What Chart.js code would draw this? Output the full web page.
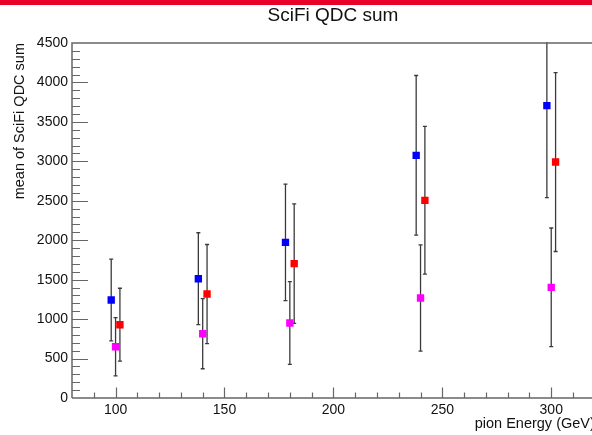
<!DOCTYPE html>
<html>
<head>
<meta charset="utf-8">
<script src="https://cdn.jsdelivr.net/npm/chart.js@4"></script>
<style>
  html, body { margin: 0; padding: 0; background: #fff; overflow: hidden; }
  #wrap { position: relative; width: 592px; height: 435px; overflow: hidden; }
  #topbar { position: absolute; left: 0; top: 0; width: 592px; height: 5px; background: #e8002b; }
  #title { position: absolute; left: 233px; width: 200px; top: 4px; text-align: center;
           font: 19px "Liberation Sans", Arial, sans-serif; color: #111; }
  #box { position: absolute; left: 0; top: 0; width: 600px; height: 435px; }
</style>
</head>
<body>
<div id="wrap">
  <div id="box"><canvas id="qdcChart"></canvas></div>
  <div id="topbar"></div>
  <div id="title">SciFi QDC sum</div>
</div>
<script>
// pion energies (GeV), slightly offset per series as in the original plot
const blueEnergy = [98, 138, 178, 238, 298];
const blueMean = [1242, 1512, 1973, 3076, 3706];
const blueErr = [518, 583, 738, 1012, 1167];

const redEnergy = [102, 142, 182, 242, 302];
const redMean = [929, 1318, 1703, 2506, 2991];
const redErr = [462, 628, 758, 936, 1134];

const magentaEnergy = [100, 140, 180, 240, 300];
const magentaMean = [650, 815, 951, 1268, 1403];
const magentaErr = [370, 444, 524, 674, 752];

const xTicks = [100, 150, 200, 250, 300];
const yTicks = [0, 500, 1000, 1500, 2000, 2500, 3000, 3500, 4000, 4500];

const xMin = 80, xMax = 320;
const yMin = 0, yMax = 4500;

const FONT = '"Liberation Sans", Arial, sans-serif';
const AXIS_COLOR = '#666';

function makeSeries(label, energy, mean, err, color) {
    return {
        label: label,
        data: energy.map((e, i) => ({ x: e, y: mean[i], err: err[i] })),
        backgroundColor: color,
        borderColor: color,
        pointStyle: 'rect',
        pointRadius: 5.2,
        pointHoverRadius: 5.2,
        pointBorderWidth: 0,
        showLine: false
    };
}

// Vertical error bars, drawn under the markers
const errorBars = {
    id: 'errorBars',
    beforeDatasetsDraw(chart) {
        const ctx = chart.ctx;
        const xs = chart.scales.x;
        const ys = chart.scales.y;
        const area = chart.chartArea;
        ctx.save();
        ctx.beginPath();
        ctx.rect(area.left, area.top - 1, area.right - area.left, area.bottom - area.top + 2);
        ctx.clip();
        ctx.strokeStyle = '#3a3a3a';
        ctx.lineWidth = 1.3;
        chart.data.datasets.forEach(ds => {
            ds.data.forEach(p => {
                const px = xs.getPixelForValue(p.x);
                const top = ys.getPixelForValue(p.y + p.err);
                const bot = ys.getPixelForValue(p.y - p.err);
                ctx.beginPath();
                ctx.moveTo(px, top);
                ctx.lineTo(px, bot);
                ctx.moveTo(px - 2, top);
                ctx.lineTo(px + 2, top);
                ctx.moveTo(px - 2, bot);
                ctx.lineTo(px + 2, bot);
                ctx.stroke();
            });
        });
        ctx.restore();
    }
};

// ROOT-style frame with ticks pointing inwards
const rootFrame = {
    id: 'rootFrame',
    afterDraw(chart) {
        const ctx = chart.ctx;
        const xs = chart.scales.x;
        const ys = chart.scales.y;
        const a = chart.chartArea;
        ctx.save();
        ctx.strokeStyle = AXIS_COLOR;
        ctx.lineWidth = 1.5;
        ctx.beginPath();
        ctx.moveTo(a.left, a.bottom);
        ctx.lineTo(a.left, a.top);
        ctx.lineTo(a.right, a.top);
        ctx.moveTo(a.left, a.bottom);
        ctx.lineTo(a.right, a.bottom);
        ctx.stroke();

        ctx.lineWidth = 1.2;
        ctx.beginPath();
        for (let v = yMin + 100; v < yMax; v += 100) {
            const py = Math.round(ys.getPixelForValue(v)) + 0.5;
            const len = v % 500 === 0 ? 16 : 8;
            ctx.moveTo(a.left, py);
            ctx.lineTo(a.left + len, py);
        }
        for (let v = 90; v <= xMax; v += 10) {
            const px = Math.round(xs.getPixelForValue(v)) + 0.5;
            const len = v % 50 === 0 ? 10.5 : 5.5;
            ctx.moveTo(px, a.bottom);
            ctx.lineTo(px, a.bottom - len);
        }
        ctx.stroke();
        ctx.restore();
    }
};

const chart = new Chart(document.getElementById('qdcChart'), {
    type: 'scatter',
    data: {
        datasets: [
            makeSeries('blue', blueEnergy, blueMean, blueErr, '#0000ff'),
            makeSeries('red', redEnergy, redMean, redErr, '#ff0000'),
            makeSeries('magenta', magentaEnergy, magentaMean, magentaErr, '#ff00ff')
        ]
    },
    options: {
        responsive: true,
        maintainAspectRatio: false,
        animation: false,
        layout: { padding: { top: 43, right: 5, left: 0, bottom: 0 } },
        plugins: {
            legend: { display: false },
            title: { display: false },
            tooltip: { enabled: false }
        },
        scales: {
            x: {
                type: 'linear',
                min: xMin,
                max: xMax,
                grid: { display: false, drawTicks: false, tickLength: 0 },
                border: { display: false },
                afterBuildTicks(scale) {
                    scale.ticks = xTicks.map(v => ({ value: v }));
                },
                afterFit(scale) { scale.height = 37; },
                ticks: {
                    padding: 4,
                    color: '#111',
                    font: { family: FONT, size: 14 },
                    maxRotation: 0,
                    callback: v => String(v)
                },
                title: {
                    display: true,
                    text: 'pion Energy (GeV)',
                    align: 'end',
                    color: '#111',
                    font: { family: FONT, size: 14.5 },
                    padding: { top: 0, bottom: 2 }
                }
            },
            y: {
                type: 'linear',
                min: yMin,
                max: yMax,
                grid: { display: false, drawTicks: false, tickLength: 0 },
                border: { display: false },
                afterBuildTicks(scale) {
                    scale.ticks = yTicks.map(v => ({ value: v }));
                },
                afterFit(scale) { scale.width = 72; },
                ticks: {
                    padding: 4,
                    color: '#111',
                    font: { family: FONT, size: 14 },
                    callback: v => String(v)
                },
                title: {
                    display: true,
                    text: 'mean of SciFi QDC sum',
                    align: 'end',
                    color: '#111',
                    font: { family: FONT, size: 14.5 },
                    padding: { top: 11, bottom: 0 }
                }
            }
        }
    },
    plugins: [errorBars, rootFrame]
});
</script>
</body>
</html>
